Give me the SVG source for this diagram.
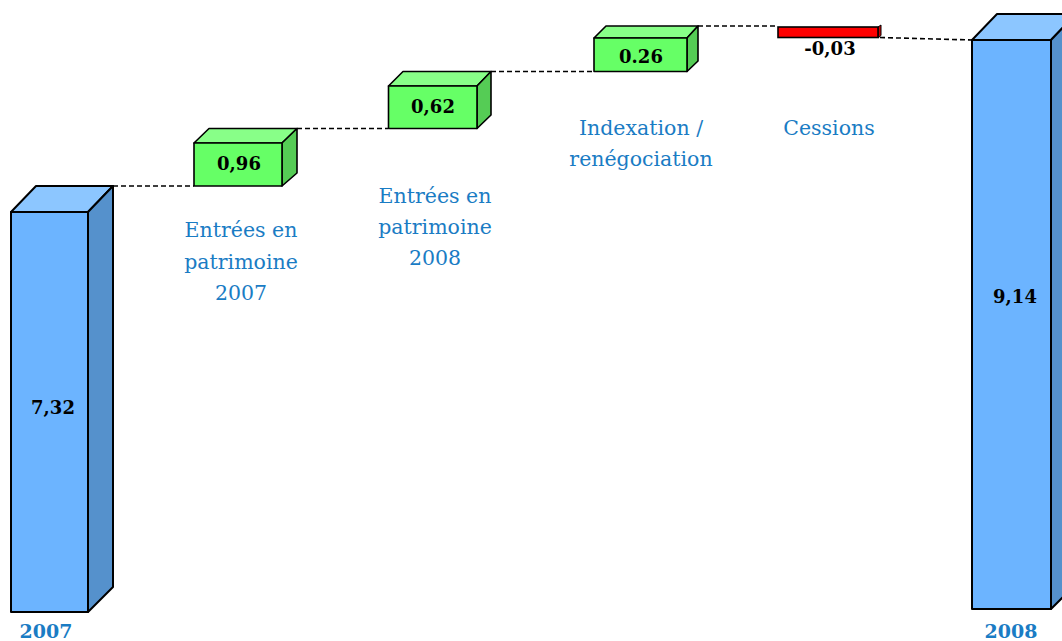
<svg xmlns="http://www.w3.org/2000/svg" width="1062" height="641" viewBox="0 0 1062 641">
<style>
.bf{fill:#6cb4ff;stroke:#000;stroke-width:2;stroke-linejoin:round}
.bt{fill:#8cc6ff;stroke:#000;stroke-width:2;stroke-linejoin:round}
.bs{fill:#5591cc;stroke:#000;stroke-width:2;stroke-linejoin:round}
.gf{fill:#66ff66;stroke:#000;stroke-width:1.6;stroke-linejoin:round}
.gt{fill:#88ff88;stroke:#000;stroke-width:1.6;stroke-linejoin:round}
.gs{fill:#55cc55;stroke:#000;stroke-width:1.6;stroke-linejoin:round}
.rf{fill:#ff0000;stroke:#000;stroke-width:1.6}
.rs{fill:#cc0000;stroke:#000;stroke-width:1}
.val{font-family:"DejaVu Serif","Liberation Serif",serif;font-weight:bold;font-size:18px;fill:#000;text-anchor:middle}
.lab{font-family:"DejaVu Serif","Liberation Serif",serif;font-size:20.5px;fill:#1a7cc4;text-anchor:middle}
.yr{font-family:"DejaVu Serif","Liberation Serif",serif;font-weight:bold;font-size:19px;fill:#1a7cc4;text-anchor:middle}
.dash{stroke:#000;stroke-width:1.6;stroke-dasharray:5,3;fill:none}
</style>
<g id="connectors">
<line class="dash" x1="113" y1="186" x2="194" y2="186"/>
<line class="dash" x1="297" y1="128.5" x2="388" y2="128.5"/>
<line class="dash" x1="491" y1="71.5" x2="594" y2="71.5"/>
<line class="dash" x1="698" y1="26" x2="778" y2="26"/>
<line class="dash" x1="880" y1="37.5" x2="972" y2="40"/>
</g>
<g id="bar2007">
<polygon class="bt" points="11,212 36,186 113,186 88,212"/>
<polygon class="bs" points="88,212 113,186 113,587 88,612"/>
<rect class="bf" x="11" y="212" width="77" height="400"/>
<text class="val" x="53" y="414">7,32</text>
<text class="yr" x="46" y="638">2007</text>
</g>
<g id="step1">
<polygon class="gt" points="194,143 209,128.5 297,128.5 282,143"/>
<polygon class="gs" points="282,143 297,128.5 297,173 282,186"/>
<rect class="gf" x="194" y="143" width="88" height="43"/>
<text class="val" x="239" y="170">0,96</text>
<text class="lab" x="241" y="237">Entrées en</text>
<text class="lab" x="241" y="269">patrimoine</text>
<text class="lab" x="241" y="300">2007</text>
</g>
<g id="step2">
<polygon class="gt" points="388.5,86 403,71.5 491,71.5 477,86"/>
<polygon class="gs" points="477,86 491,71.5 491,115 477,128.5"/>
<rect class="gf" x="388.5" y="86" width="88.5" height="42.5"/>
<text class="val" x="433" y="113">0,62</text>
<text class="lab" x="435" y="203">Entrées en</text>
<text class="lab" x="435" y="234">patrimoine</text>
<text class="lab" x="435" y="265">2008</text>
</g>
<g id="step3">
<polygon class="gt" points="594,38 606,26 698,26 687,38"/>
<polygon class="gs" points="687,38 698,26 698,61 687,71.5"/>
<rect class="gf" x="594" y="38" width="93" height="33.5"/>
<text class="val" x="641" y="63">0.26</text>
<text class="lab" x="641" y="135">Indexation /</text>
<text class="lab" x="641" y="166">renégociation</text>
</g>
<g id="step4">
<polygon class="rs" points="878,27 881,25 881,35.5 878,38"/>
<rect class="rf" x="778" y="27" width="100" height="10.5"/>
<text class="val" x="830" y="55">-0,03</text>
<text class="lab" x="829" y="135">Cessions</text>
</g>
<g id="bar2008">
<polygon class="bt" points="972,40 997,14 1076,14 1051,40"/>
<polygon class="bs" points="1051,40 1076,14 1076,584 1051,609"/>
<rect class="bf" x="972" y="40" width="79" height="569"/>
<text class="val" x="1015" y="303">9,14</text>
<text class="yr" x="1011" y="638">2008</text>
</g>
</svg>
